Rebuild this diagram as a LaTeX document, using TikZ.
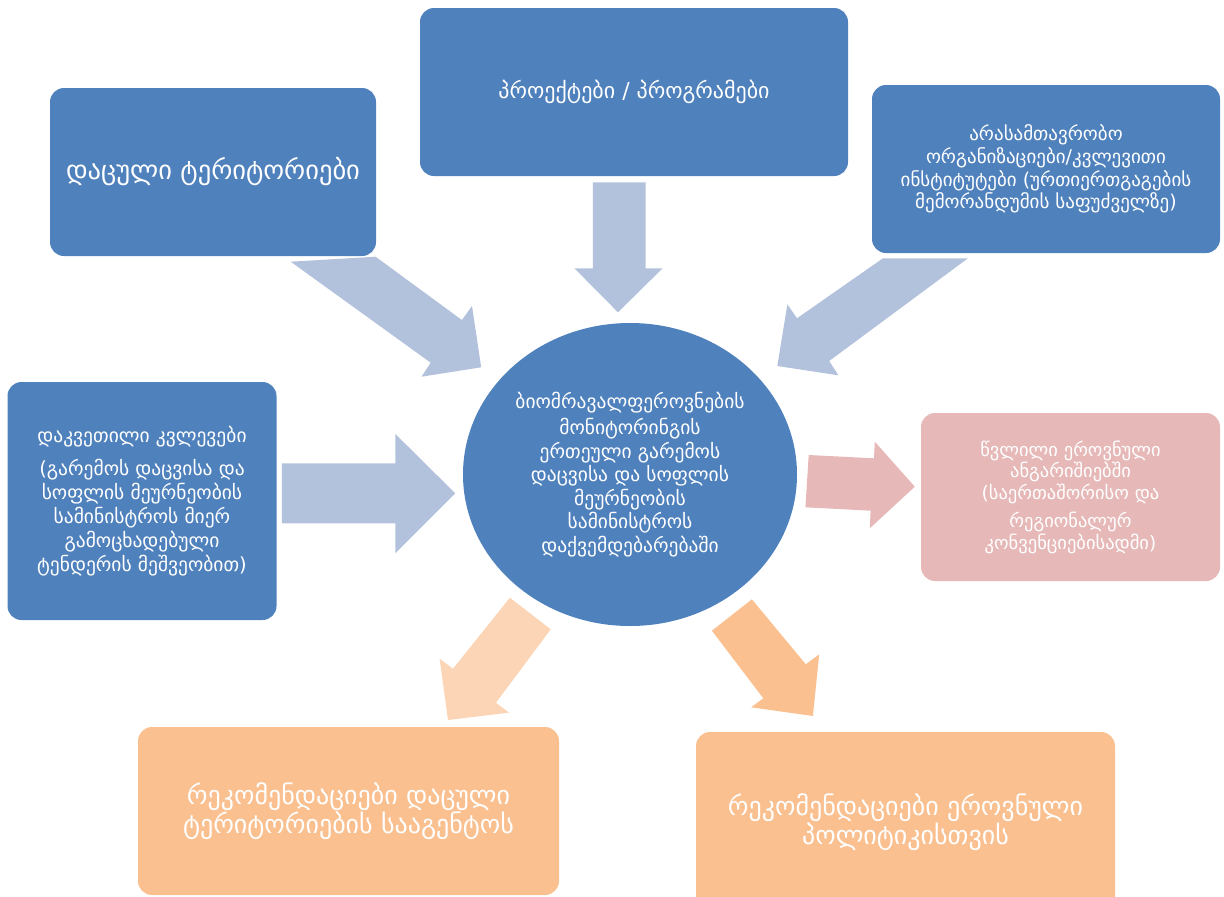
\documentclass[tikz,border=0pt]{standalone}
\usepackage{fontspec}
\usetikzlibrary{shapes.geometric}
\newfontfamily\geo{DejaVu Sans}
\definecolor{mblue}{HTML}{4F81BD}
\definecolor{lblue}{HTML}{B3C2DC}
\definecolor{mpink}{HTML}{E6B9B8}
\definecolor{lorange}{HTML}{FBD5B5}
\definecolor{morange}{HTML}{FAC090}
\begin{document}
\begin{tikzpicture}[x=1pt,y=-1pt,
  box/.style={draw=none,rounded corners=14pt,text=white,align=center,inner sep=0pt},
  bluebox/.style={box,fill=mblue},
  arr/.style={draw=none}]
\useasboundingbox (0,0) rectangle (1224,897);
% arrows
\fill[lblue] (290.7,261.7) -- (375.6,256.7) -- (461.9,320) -- (472,306) -- (481.2,367.3) -- (421.5,376.7) -- (430.7,362.7) -- cycle;
\fill[lblue] (967.9,258.3) -- (882.9,258.3) -- (797,318.3) -- (787.4,304.3) -- (777.3,366) -- (838.4,375.3) -- (829.2,361) -- cycle;
\fill[lblue] (592.8,182.3) -- (645.6,182.3) -- (645.6,268.3) -- (662.6,268.3) -- (618,312.3) -- (574.4,268.3) -- (592.8,268.3) -- cycle;
\fill[lblue] (281.8,463.3) -- (395.4,463.3) -- (395.4,434) -- (455.2,493.3) -- (395.4,553.3) -- (395.4,523.3) -- (281.8,523.3) -- cycle;
\fill[mpink] (808.7,455) -- (874,458.3) -- (874.8,441.7) -- (914.8,486.7) -- (869.8,528.3) -- (870.6,510.7) -- (805.4,507.3) -- cycle;
\fill[lorange] (509.9,597.7) -- (550.7,629.3) -- (496,702.7) -- (509,712.7) -- (448,720) -- (439.6,658.7) -- (453,668.7) -- cycle;
\fill[morange] (751.9,599.3) -- (711.9,630.7) -- (763.3,698.3) -- (751.1,707.3) -- (812.9,716) -- (819.2,654.3) -- (805.8,664.3) -- cycle;
% boxes
\node[bluebox,minimum width=326pt,minimum height=168pt,font=\geo\fontsize{26.5}{30}\selectfont] (prot) at (213,172) {დაცული ტერიტორიები};
\node[bluebox,minimum width=428pt,minimum height=168pt,font=\geo\fontsize{22}{26}\selectfont] (proj) at (634,92) {პროექტები / პროგრამები};
\node[bluebox,minimum width=348pt,minimum height=168pt,font=\geo\fontsize{19}{22.7}\selectfont] (ngo) at (1046,169) {არასამთავრობო\\ორგანიზაციები/კვლევითი\\ინსტიტუტები (ურთიერთგაგების\\მემორანდუმის საფუძველზე)};
\node[bluebox,minimum width=269pt,minimum height=238pt,font=\geo\fontsize{19.5}{24}\selectfont] (res) at (142,501) {დაკვეთილი კვლევები\\[9pt](გარემოს დაცვისა და\\სოფლის მეურნეობის\\სამინისტროს მიერ\\გამოცხადებული\\ტენდერის მეშვეობით)};
\node[ellipse,fill=mblue,minimum width=334pt,minimum height=303pt,text=white,align=center,inner sep=0pt,font=\geo\fontsize{19.5}{23.5}\selectfont] (center) at (630,474.5) {ბიომრავალფეროვნების\\[3pt]მონიტორინგის\\ერთეული გარემოს\\დაცვისა და სოფლის\\მეურნეობის\\სამინისტროს\\დაქვემდებარებაში};
\node[box,fill=mpink,minimum width=299pt,minimum height=168pt,font=\geo\fontsize{18.5}{21.5}\selectfont] (nat) at (1070.5,497) {წვლილი ეროვნული\\ანგარიშიებში\\(საერთაშორისო და\\[7pt]რეგიონალურ\\კონვენციებისადმი)};
\node[box,fill=morange,minimum width=421pt,minimum height=168pt,font=\geo\fontsize{26}{26}\selectfont] (rec1) at (348.5,811) {რეკომენდაციები დაცული\\ტერიტორიების სააგენტოს};
\node[box,fill=morange,minimum width=419pt,minimum height=180pt,font=\geo\fontsize{26}{27}\selectfont] (rec2) at (905.5,822) {რეკომენდაციები ეროვნული\\პოლიტიკისთვის};
\end{tikzpicture}
\end{document}
